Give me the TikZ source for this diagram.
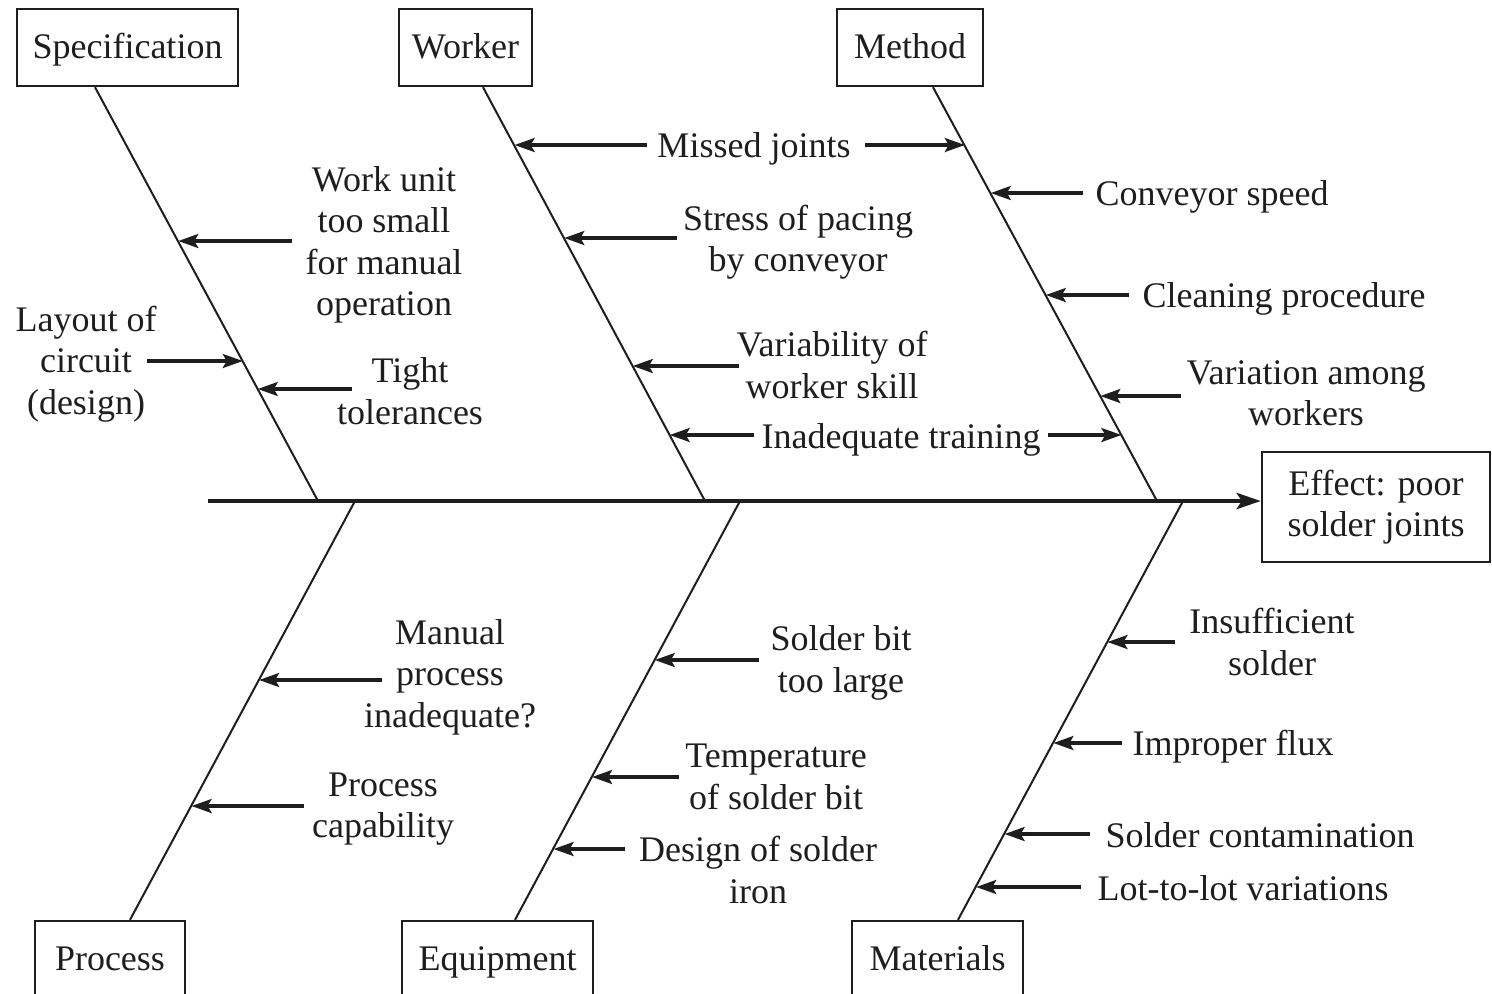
\documentclass[tikz,border=0pt]{standalone}
\usepackage{fontspec}
\setmainfont{Liberation Serif}
\usetikzlibrary{arrows.meta,calc}
\definecolor{ink}{HTML}{1E1E1E}
\tikzset{
  lbl/.style={inner sep=0pt, align=center, text=ink, yshift=-1.5pt, font=\fontsize{18}{20.7}\selectfont},
  catbox/.style={draw=ink, line width=1.2pt, inner sep=0pt, text=ink,
                 font=\fontsize{18}{20.7}\selectfont, minimum height=38.5pt},
  single/.style={text height=15pt, text depth=4pt},
  bone/.style={draw=ink, line width=1pt},
  spine/.style={draw=ink, line width=2.2pt, -{Stealth[length=12pt,width=8pt,inset=2.5pt]}},
  arr/.style={draw=ink, line width=1.6pt, -{Stealth[length=10pt,width=7pt,inset=2pt]}}
}
\begin{document}
\begin{tikzpicture}[x=0.5pt,y=-0.5pt]
\useasboundingbox (0,0) rectangle (1492,993);

% category boxes
\node[catbox, single, minimum width=110.5pt] (spec) at (127.5,47.5) {Specification};
\node[catbox, single, minimum width=66.5pt]  (work) at (465.5,47.5) {Worker};
\node[catbox, single, minimum width=73pt]    (meth) at (910,47.5)   {Method};
\node[catbox, single, minimum width=75pt]    (proc) at (110,959.5)  {Process};
\node[catbox, single, minimum width=95.5pt]  (equi) at (497.5,959.5) {Equipment};
\node[catbox, single, minimum width=85.5pt]  (mate) at (937.5,959.5) {Materials};
\node[catbox, minimum width=114pt, minimum height=55pt, align=center] (eff) at (1376,507)
  {Effect: poor\\solder joints};

% bone ends
\coordinate (sT) at ([xshift=-16.25pt]spec.south);
\coordinate (wT) at ([xshift=8.75pt]work.south);
\coordinate (mT) at ([xshift=11.5pt]meth.south);
\coordinate (pT) at ([xshift=10pt]proc.north);
\coordinate (eT) at ([xshift=8.75pt]equi.north);
\coordinate (aT) at ([xshift=10.25pt]mate.north);
\coordinate (sB) at (318,501);
\coordinate (wB) at (705,501);
\coordinate (mB) at (1157,501);
\coordinate (pB) at (355,501);
\coordinate (eB) at (740,501);
\coordinate (aB) at (1183,501);
\coordinate (s0) at (208,501);

% spine and bones
\draw[spine] (s0) -- (s0 -| eff.west);
\draw[bone] (sT) -- (sB);
\draw[bone] (wT) -- (wB);
\draw[bone] (mT) -- (mB);
\draw[bone] (pT) -- (pB);
\draw[bone] (eT) -- (eB);
\draw[bone] (aT) -- (aB);

% labels
\node[lbl] (wu)  at (384,242)  {Work unit\\too small\\for manual\\operation};
\node[lbl] (lay) at (86,361)   {Layout of\\circuit\\(design)};
\node[lbl] (tt)  at (410,388)  {Tight\\tolerances};
\node[lbl] (mj)  at (754,146)  {Missed joints};
\node[lbl] (sp)  at (798,239)  {Stress of pacing\\by conveyor};
\node[lbl] (vw)  at (832,362)  {Variability of\\worker skill};
\node[lbl] (it)  at (901,437)  {Inadequate training};
\node[lbl] (cs)  at (1212,194) {Conveyor speed};
\node[lbl] (cp)  at (1284,296) {Cleaning procedure};
\node[lbl] (va)  at (1306,390) {Variation among\\workers};
\node[lbl] (mp)  at (450,674)  {Manual\\process\\inadequate?};
\node[lbl] (pc)  at (383,806)  {Process\\capability};
\node[lbl] (sb)  at (841,660)  {Solder bit\\too large};
\node[lbl] (ts)  at (776,774)  {Temperature\\of solder bit};
\node[lbl] (ds)  at (758,867)  {Design of solder\\iron};
\node[lbl] (is)  at (1272,639) {Insufficient\\solder};
\node[lbl] (if)  at (1233,744) {Improper flux};
\node[lbl] (sc)  at (1260,832) {Solder contamination};
\node[lbl] (ll)  at (1243,885) {Lot-to-lot variations};

% arrow heads on bones
\coordinate (h1)  at (178.3,241);
\coordinate (h2)  at (242.8,361);
\coordinate (h3)  at (257.8,389);
\coordinate (h4)  at (514.6,145);
\coordinate (h4b) at (964.8,145);
\coordinate (h5)  at (564.3,238);
\coordinate (h6)  at (632.8,366);
\coordinate (h7)  at (669.7,435);
\coordinate (h7b) at (1121.4,435);
\coordinate (h8)  at (990.8,193);
\coordinate (h9)  at (1045.8,295);
\coordinate (h10) at (1100.3,396);
\coordinate (h11) at (259.1,680);
\coordinate (h12) at (191.6,806);
\coordinate (h13) at (654.8,660);
\coordinate (h14) at (592.1,777);
\coordinate (h15) at (553.6,849);
\coordinate (h16) at (1107.5,642);
\coordinate (h17) at (1053.4,743);
\coordinate (h18) at (1004.6,834);
\coordinate (h19) at (976.2,887);

% arrows
\draw[arr] (wu.west |- h1) ++(-13,0) -- (h1);
\draw[arr] (lay.east |- h2) ++(-10,0) -- (h2);
\draw[arr] (tt.west |- h3) ++(15,0) -- (h3);
\draw[arr] (mj.west |- h4) ++(-10,0) -- (h4);
\draw[arr] (mj.east |- h4b) ++(14,0) -- (h4b);
\draw[arr] (sp.west |- h5) ++(-6,0) -- (h5);
\draw[arr] (vw.west |- h6) ++(3,0) -- (h6);
\draw[arr] (it.west |- h7) ++(-7,0) -- (h7);
\draw[arr] (it.east |- h7b) ++(7,0) -- (h7b);
\draw[arr] (cs.west |- h8) ++(-12,0) -- (h8);
\draw[arr] (cp.west |- h9) ++(-13,0) -- (h9);
\draw[arr] (va.west |- h10) ++(-5,0) -- (h10);
\draw[arr] (mp.west |- h11) ++(18,0) -- (h11);
\draw[arr] (pc.west |- h12) ++(-8,0) -- (h12);
\draw[arr] (sb.west |- h13) ++(-11,0) -- (h13);
\draw[arr] (ts.west |- h14) ++(-6,0) -- (h14);
\draw[arr] (ds.west |- h15) ++(-14,0) -- (h15);
\draw[arr] (is.west |- h16) ++(-14,0) -- (h16);
\draw[arr] (if.west |- h17) ++(-10,0) -- (h17);
\draw[arr] (sc.west |- h18) ++(-15,0) -- (h18);
\draw[arr] (ll.west |- h19) ++(-16,0) -- (h19);
\end{tikzpicture}
\end{document}
